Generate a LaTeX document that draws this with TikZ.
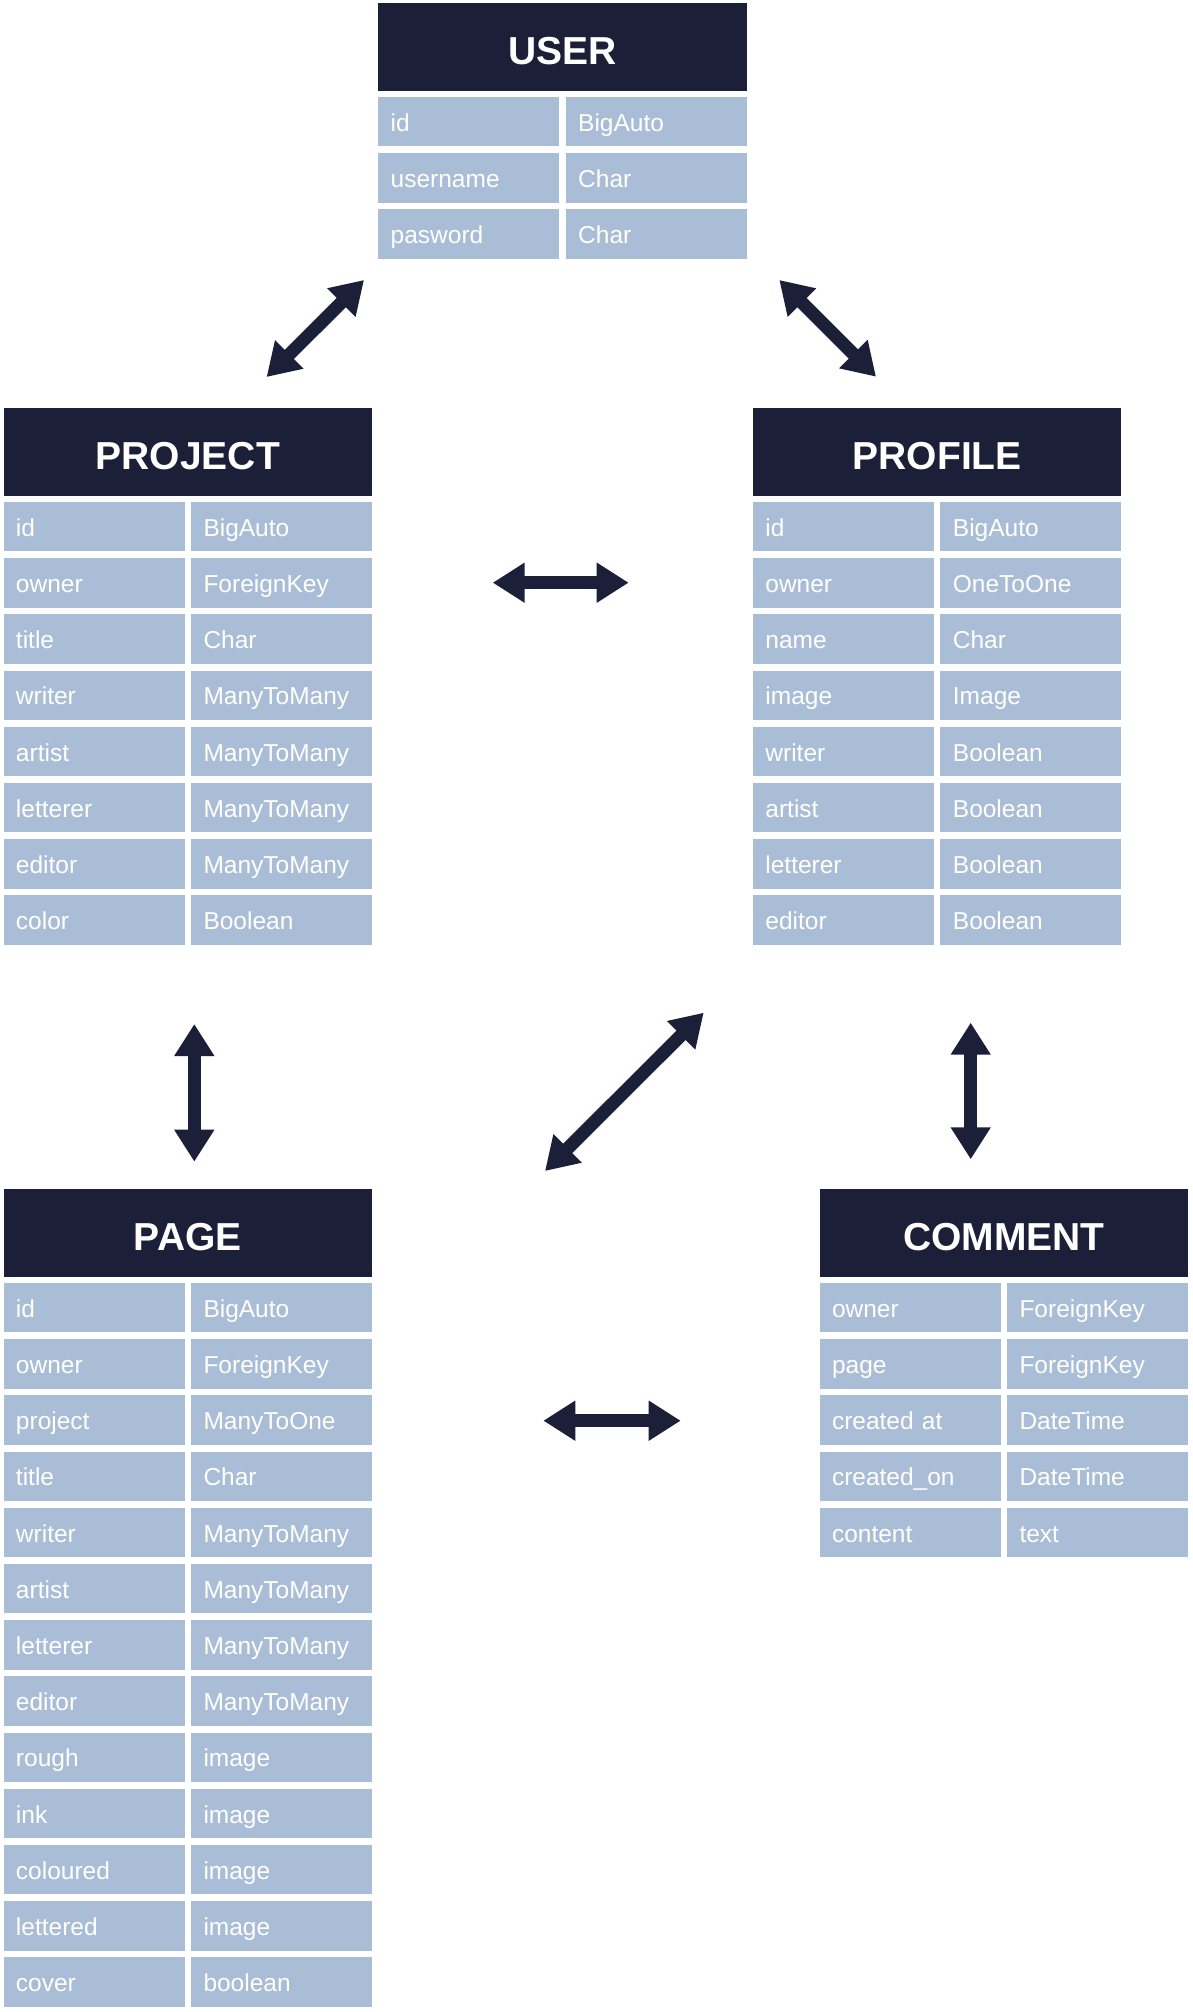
\documentclass[tikz,border=0pt]{standalone}
\usepackage{fontspec}
\setmainfont{Liberation Sans}
\usetikzlibrary{arrows.meta}
\definecolor{navy}{RGB}{27,31,56}
\definecolor{cellblue}{RGB}{170,189,215}
\tikzset{
  hdr/.style={fill=navy, text=white, anchor=north west, inner sep=0pt,
    minimum width=368.5pt, minimum height=87.5pt, text height=61pt, text depth=26.5pt,
    font=\fontsize{39}{42}\selectfont\bfseries},
  cellbox/.style={fill=cellblue, text=white, anchor=north west, inner xsep=12.5pt, inner ysep=0pt,
    minimum width=181pt, minimum height=49.5pt, text width=156pt, align=left,
    text height=34.3pt, text depth=15.2pt, font=\fontsize{24.5}{28}\selectfont},
  biarrow/.style={draw=navy, line width=13pt,
    {Triangle[length=32pt,width=38pt]}-{Triangle[length=32pt,width=38pt]}}
}
\newcommand\erTable[5]{%
  \node[hdr] (#1) at (#2,#3) {#4};
  \foreach \fa/\fb [count=\i from 0] in {#5} {
    \pgfmathsetmacro\ry{#3+93.7+56.2*\i}
    \node[cellbox] (#1-\i-name) at (#2,\ry) {\fa};
    \node[cellbox] (#1-\i-type) at (#2+187.5,\ry) {\fb};
  }
}
\begin{document}
\begin{tikzpicture}[x=1pt,y=-1pt]
\useasboundingbox[fill=white] (0,0) rectangle (1192,2012);
\erTable{user}{378}{3}{USER}{id/BigAuto,username/Char,pasword/Char}
\erTable{project}{3.3}{408}{PROJECT}{id/BigAuto,owner/ForeignKey,title/Char,writer/ManyToMany,artist/ManyToMany,letterer/ManyToMany,editor/ManyToMany,color/Boolean}
\erTable{profile}{752.7}{408}{PROFILE}{id/BigAuto,owner/OneToOne,name/Char,image/Image,writer/Boolean,artist/Boolean,letterer/Boolean,editor/Boolean}
\erTable{page}{3.3}{1189}{PAGE}{id/BigAuto,owner/ForeignKey,project/ManyToOne,title/Char,writer/ManyToMany,artist/ManyToMany,letterer/ManyToMany,editor/ManyToMany,rough/image,ink/image,coloured/image,lettered/image,cover/boolean}
\erTable{comment}{819.3}{1189}{COMMENT}{owner/ForeignKey,page/ForeignKey,created at/DateTime,created\_on/DateTime,content/text}
% arrow end points
\coordinate (upA) at (364,280);
\coordinate (upB) at (266.6,377);
\coordinate (ufA) at (779.3,280);
\coordinate (ufB) at (876,376.7);
\coordinate (ppA) at (492.7,582.7);
\coordinate (ppB) at (628.7,582.7);
\coordinate (pgA) at (194.3,1024);
\coordinate (pgB) at (194.3,1161.7);
\coordinate (fgA) at (703.7,1012.7);
\coordinate (fgB) at (545,1171);
\coordinate (fcA) at (970.7,1022.7);
\coordinate (fcB) at (970.7,1159.3);
\coordinate (gcA) at (543.3,1420.7);
\coordinate (gcB) at (680.7,1420.7);
\draw[biarrow] (upA) -- (upB);
\draw[biarrow] (ufA) -- (ufB);
\draw[biarrow] (ppA) -- (ppB);
\draw[biarrow] (pgA) -- (pgB);
\draw[biarrow] (fgA) -- (fgB);
\draw[biarrow] (fcA) -- (fcB);
\draw[biarrow] (gcA) -- (gcB);
\end{tikzpicture}
\end{document}
